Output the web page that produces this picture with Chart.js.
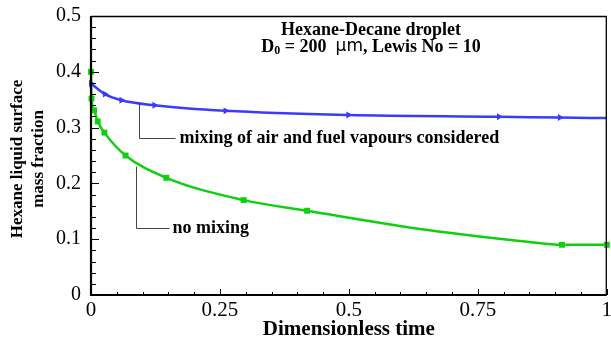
<!DOCTYPE html>
<html>
<head>
<meta charset="utf-8">
<script src="https://cdn.jsdelivr.net/npm/chart.js@4/dist/chart.umd.min.js"></script>
<style>
  html, body { margin: 0; padding: 0; background: #fff; }
  #wrap { width: 611px; height: 342px; position: relative; }
</style>
</head>
<body>
<div id="wrap"><canvas id="c" width="611" height="342"></canvas></div>
<script>
// ---- data ----
const mixT = [0, 0.027, 0.059, 0.123, 0.261, 0.499, 0.791, 0.909, 1.0];
const mixY = [0.379, 0.360, 0.349, 0.340, 0.330, 0.3226, 0.3195, 0.318, 0.317];
const mixMarker = [1, 1, 1, 1, 1, 1, 1, 1, 0];

const noMixT = [0, 0.001, 0.006, 0.013, 0.026, 0.067, 0.146, 0.296, 0.419, 0.653, 0.846, 0.913, 1.0];
const noMixY = [0.400, 0.352, 0.331, 0.311, 0.291, 0.250, 0.210, 0.170, 0.151, 0.1165, 0.0955, 0.090, 0.090];
const noMixMarker = [1, 1, 1, 1, 1, 1, 1, 1, 1, 0, 0, 1, 1];

const xTickValues = [0, 0.25, 0.5, 0.75, 1];
const xTickLabels = ['0', '0.25', '0.5', '0.75', '1'];
const yTickValues = [0, 0.1, 0.2, 0.3, 0.4, 0.5];
const yTickLabels = ['0', '0.1', '0.2', '0.3', '0.4', '0.5'];

const xTitle = 'Dimensionless time';
const yTitleLines = ['Hexane liquid surface', 'mass fraction'];
const titleLine1 = 'Hexane-Decane droplet';
const mixLabel = 'mixing of air and fuel vapours considered';
const noMixLabel = 'no mixing';

const SERIF = '"Liberation Serif", "Times New Roman", serif';
const BLUE = '#3b3bff';
const GREEN = '#0fd00f';

function pts(xs, ys) { return xs.map((x, i) => ({ x: x, y: ys[i] })); }

const framePlugin = {
  id: 'frameTicks',
  afterDatasetsDraw(chart) {
    const ctx = chart.ctx;
    const a = chart.chartArea;
    const xs = chart.scales.x, ys = chart.scales.y;
    ctx.save();
    ctx.strokeStyle = '#000';
    ctx.lineWidth = 1;
    for (let k = 0; k <= 25; k++) {
      const v = k * 0.02;
      const py = Math.round(ys.getPixelForValue(v)) + 0.5;
      const len = (k % 5 === 0) ? 8 : 5;
      ctx.beginPath(); ctx.moveTo(a.left, py); ctx.lineTo(a.left + len, py); ctx.stroke();
    }
    for (let k = 0; k <= 20; k++) {
      const v = k * 0.05;
      const px = Math.round(xs.getPixelForValue(v)) + 0.5;
      const len = (k % 5 === 0) ? 6 : 3;
      ctx.beginPath(); ctx.moveTo(px, a.bottom); ctx.lineTo(px, a.bottom - len); ctx.stroke();
    }
    // frame
    ctx.lineWidth = 1.3;
    ctx.beginPath();
    ctx.moveTo(a.left, a.top + 0.5); ctx.lineTo(a.right, a.top + 0.5);
    ctx.moveTo(a.right - 0.5, a.top); ctx.lineTo(a.right - 0.5, a.bottom);
    ctx.stroke();
    ctx.lineWidth = 2.2;
    ctx.beginPath();
    ctx.moveTo(a.left, a.top); ctx.lineTo(a.left, a.bottom);
    ctx.lineTo(a.right, a.bottom);
    ctx.stroke();

    // leader lines
    ctx.strokeStyle = '#444';
    ctx.lineWidth = 1;
    const P = (t, v) => [Math.round(xs.getPixelForValue(t)) + 0.5, Math.round(ys.getPixelForValue(v)) + 0.5];
    let p1 = P(0.0925, 0.344), p2 = P(0.0925, 0.282), p3 = P(0.162, 0.282);
    ctx.beginPath(); ctx.moveTo(p1[0], p1[1]); ctx.lineTo(p2[0], p2[1]); ctx.lineTo(p3[0], p3[1]); ctx.stroke();
    p1 = P(0.0867, 0.231); p2 = P(0.0867, 0.120); p3 = P(0.152, 0.120);
    ctx.beginPath(); ctx.moveTo(p1[0], p1[1]); ctx.lineTo(p2[0], p2[1]); ctx.lineTo(p3[0], p3[1]); ctx.stroke();

    // annotation texts
    ctx.fillStyle = '#000';
    ctx.textBaseline = 'middle';
    ctx.textAlign = 'left';
    ctx.font = 'bold 18px ' + SERIF;
    let q = P(0.171, 0.282);
    ctx.fillText(mixLabel, q[0], q[1]);
    q = P(0.158, 0.120);
    ctx.fillText(noMixLabel, q[0], q[1]);

    // title block
    const cx = 371;
    ctx.textAlign = 'center';
    ctx.fillText(titleLine1, cx, 30);
    const partsFont = [
      ['D', 'bold 18px ' + SERIF, 0],
      ['0', 'bold 12px ' + SERIF, 4],
      [' = 200  ', 'bold 18px ' + SERIF, 0],
      ['\u03bcm', '17px "DejaVu Sans", sans-serif', 0],
      [', Lewis No = 10', 'bold 18px ' + SERIF, 0]
    ];
    let total = 0;
    partsFont.forEach(p => { ctx.font = p[1]; total += ctx.measureText(p[0]).width; });
    let x = cx - total / 2;
    ctx.textAlign = 'left';
    partsFont.forEach(p => { ctx.font = p[1]; ctx.fillText(p[0], x, 47 + p[2]); x += ctx.measureText(p[0]).width; });

    // y title (two lines, rotated)
    ctx.font = 'bold 17px ' + SERIF;
    ctx.textAlign = 'center';
    ctx.save();
    ctx.translate(18, 159);
    ctx.rotate(-Math.PI / 2);
    ctx.fillText(yTitleLines[0], 0, 0);
    ctx.fillText(yTitleLines[1], 0, 21);
    ctx.restore();
    ctx.restore();
  }
};

new Chart(document.getElementById('c'), {
  type: 'scatter',
  data: {
    datasets: [
      {
        label: 'mixing of air and fuel vapours considered',
        data: pts(mixT, mixY),
        showLine: true,
        borderColor: BLUE,
        backgroundColor: BLUE,
        borderWidth: 2.5,
        cubicInterpolationMode: 'monotone',
        pointStyle: 'triangle',
        rotation: 90,
        pointRadius: mixMarker.map(m => m ? 4 : 0),
        pointBorderWidth: 0,
        clip: false
      },
      {
        label: 'no mixing',
        data: pts(noMixT, noMixY),
        showLine: true,
        borderColor: GREEN,
        backgroundColor: GREEN,
        borderWidth: 2.5,
        cubicInterpolationMode: 'monotone',
        pointStyle: 'rect',
        pointRadius: noMixMarker.map(m => m ? 4.2 : 0),
        pointBorderWidth: 0,
        clip: false
      }
    ]
  },
  options: {
    responsive: false,
    animation: false,
    events: [],
    layout: { padding: { top: 16, right: 1, left: 0, bottom: 0 } },
    plugins: { legend: { display: false }, tooltip: { enabled: false } },
    scales: {
      x: {
        type: 'linear', min: 0, max: 1,
        grid: { display: false, drawTicks: false },
        border: { display: false },
        afterBuildTicks: s => { s.ticks = xTickValues.map(v => ({ value: v })); },
        afterFit: s => { s.height = 47; s.paddingLeft = 0; s.paddingRight = 0; },
        ticks: {
          autoSkip: false, maxRotation: 0, padding: 3,
          color: '#000',
          font: { family: SERIF, size: 21 },
          callback: (v, i) => xTickLabels[i]
        },
        title: {
          display: true, text: xTitle, color: '#000',
          font: { family: SERIF, size: 21, weight: 'bold', lineHeight: 1.1 },
          padding: { top: 0, bottom: 1 }
        }
      },
      y: {
        type: 'linear', min: 0, max: 0.5,
        grid: { display: false, drawTicks: false },
        border: { display: false },
        afterBuildTicks: s => { s.ticks = yTickValues.map(v => ({ value: v })); },
        afterFit: s => { s.width = 91; s.paddingTop = 0; s.paddingBottom = 0; },
        ticks: {
          autoSkip: false, padding: 10,
          color: '#000',
          font: { family: SERIF, size: 20 },
          callback: (v, i) => yTickLabels[i]
        }
      }
    }
  },
  plugins: [framePlugin]
});
</script>
</body>
</html>
